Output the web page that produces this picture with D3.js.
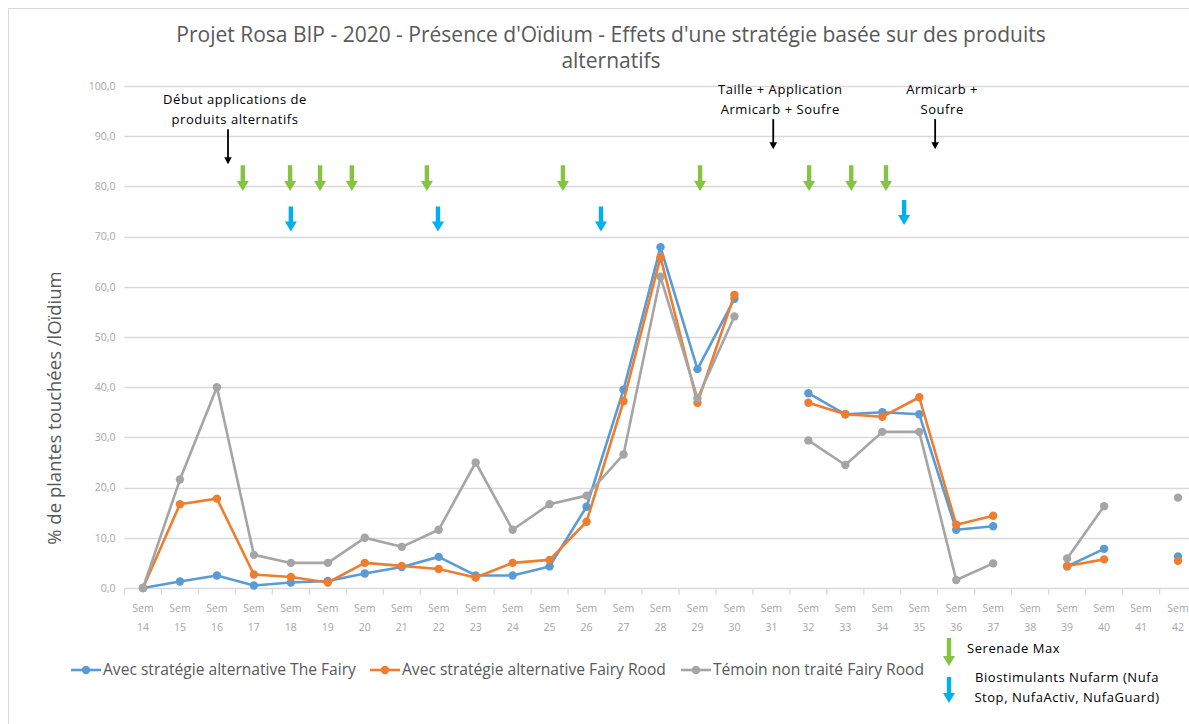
<!DOCTYPE html>
<html><head><meta charset="utf-8">
<script src="https://cdn.jsdelivr.net/npm/d3@7"></script>
<style>
body{margin:0;background:#fff;}
svg{display:block;font-family:"Open Sans","Liberation Sans",Arial,sans-serif;}
</style>
</head><body>
<svg id="chart" width="1189" height="724"></svg>
<script>
// ---------- DATA ----------
const weekNumbers = ["14","15","16","17","18","19","20","21","22","23","24","25","26","27","28","29","30","31","32","33","34","35","36","37","38","39","40","41","42"];
const categories = weekNumbers.map(w => "Sem " + w);
const seriesNames = [
  "Avec stratégie alternative The Fairy",
  "Avec stratégie alternative Fairy Rood",
  "Témoin non traité Fairy Rood"
];
const fairyValues  = [0, 1.3, 2.5, 0.5, 1.1, 1.4, 2.9, 4.2, 6.2, 2.5, 2.5, 4.3, 16.2, 39.5, 67.9, 43.6, 57.6, null, 38.8, 34.6, 35.0, 34.6, 11.6, 12.3, null, 4.3, 7.8, null, 6.3];
const roodValues   = [0, 16.7, 17.8, 2.7, 2.2, 1.1, 5.0, 4.4, 3.8, 2.1, 5.0, 5.6, 13.2, 37.2, 65.9, 36.9, 58.4, null, 36.9, 34.6, 34.1, 38.0, 12.6, 14.4, null, 4.4, 5.7, null, 5.4];
const temoinValues = [0, 21.6, 40.0, 6.6, 5.0, 5.0, 10.0, 8.2, 11.6, 25.0, 11.6, 16.7, 18.4, 26.6, 62.0, 37.8, 54.1, null, 29.4, 24.5, 31.1, 31.1, 1.6, 4.9, null, 5.9, 16.3, null, 18.0];
const yTickValues = [0, 10, 20, 30, 40, 50, 60, 70, 80, 90, 100];
const titleLines = ["Projet Rosa BIP - 2020 - Présence d'Oïdium - Effets d'une stratégie basée sur des produits", "alternatifs"];
const yAxisTitle = "% de plantes touchées /lOïdium";

// treatment annotations (week position, % level)
const serenadeWeeks = [16.7, 17.98, 18.79, 19.65, 21.68, 25.36, 29.07, 32.02, 33.16, 34.1];
const nufarmWeeks   = [18.0, 21.98, 26.39, 34.59];
const nufarmLevels  = [76, 76, 76, 77.3];
const noteWeeks  = [16.3, 31.05, 35.43];
const noteTops   = [91.4, 93.4, 93.4];
const noteLabels = [["Début applications de", "produits alternatifs"], ["Taille + Application", "Armicarb + Soufre"], ["Armicarb +", "Soufre"]];
const treatmentLegend = [["Serenade Max"], ["Biostimulants Nufarm (Nufa", "Stop, NufaActiv, NufaGuard)"]];

// ---------- STYLE ----------
const colors = ["#5b9bd5", "#ed7d31", "#a5a5a5"];
const green = "#84c441", cyan = "#00b0f0";
const svg = d3.select("#chart");
const W = 1189, H = 724;

// chart border
svg.append("rect").attr("x", 8.5).attr("y", 8.5).attr("width", W + 20).attr("height", H + 20)
  .attr("fill", "#fff").attr("stroke", "#d9d9d9");

const x = d3.scalePoint().domain(categories).range([124.5, 1196.5]).padding(0.5);
const step = x.step();
const xw = d3.scaleLinear().domain([14, 42]).range([x(categories[0]), x(categories[categories.length - 1])]);
const y = d3.scaleLinear().domain([0, 100]).range([588, 86]);

// gridlines
svg.append("g").selectAll("line").data(yTickValues.filter(v => v > 0)).join("line")
  .attr("x1", 124.5).attr("x2", 1196.5)
  .attr("y1", d => Math.round(y(d)) + 0.5).attr("y2", d => Math.round(y(d)) + 0.5)
  .attr("stroke", "#d9d9d9").attr("stroke-width", 1.3);

// y axis labels
const fmt = d => d3.format(".1f")(d).replace(".", ",");
const yAxis = d3.axisLeft(y).tickValues(yTickValues).tickFormat(fmt).tickSize(0).tickPadding(9);
const gy = svg.append("g").attr("transform", "translate(124.5,0)").call(yAxis);
gy.select(".domain").remove();
gy.selectAll("text").attr("fill", "#a6a6a6").style("font-size", "10.5px").style("font-family", "'Open Sans', sans-serif");

// x axis
const gx = svg.append("g").attr("transform", `translate(0,${Math.round(y(0)) + 0.5})`);
gx.append("line").attr("x1", 124.5).attr("x2", 1196.5).attr("stroke", "#d9d9d9").attr("stroke-width", 1.3);
gx.selectAll("line.tk").data(d3.range(categories.length + 1)).join("line").attr("class", "tk")
  .attr("x1", i => x(categories[0]) - step / 2 + i * step).attr("x2", i => x(categories[0]) - step / 2 + i * step)
  .attr("y1", 0).attr("y2", 6).attr("stroke", "#d9d9d9").attr("stroke-width", 1.3);
const xl = gx.selectAll("text").data(categories).join("text")
  .attr("text-anchor", "middle").attr("fill", "#a6a6a6").style("font-size", "10.5px");
xl.append("tspan").attr("x", d => x(d)).attr("y", 23).text(d => d.split(" ")[0]);
xl.append("tspan").attr("x", d => x(d)).attr("y", 42).text(d => d.split(" ")[1]);

// series
const allSeries = [fairyValues, roodValues, temoinValues];
const line = d3.line().defined(d => d.v != null).x(d => x(d.c)).y(d => y(d.v));
allSeries.forEach((vals, i) => {
  const pts = vals.map((v, k) => ({c: categories[k], v}));
  svg.append("path").datum(pts).attr("d", line).attr("fill", "none")
    .attr("stroke", colors[i]).attr("stroke-width", 2.6).attr("stroke-linejoin", "round");
  svg.append("g").selectAll("circle").data(pts.filter(d => d.v != null)).join("circle")
    .attr("cx", d => x(d.c)).attr("cy", d => y(d.v)).attr("r", 4.2).attr("fill", colors[i]);
});

// arrows
function fatArrow(g, cx, yTop, yBot, color) {
  const hw = 6, sw = 2.2, hl = 10;
  g.append("path").attr("fill", color)
    .attr("d", `M${cx - sw},${yTop} L${cx + sw},${yTop} L${cx + sw},${yBot - hl} L${cx + hw},${yBot - hl} L${cx},${yBot} L${cx - hw},${yBot - hl} L${cx - sw},${yBot - hl} Z`);
}
function thinArrow(g, cx, yTop, yBot) {
  g.append("line").attr("x1", cx).attr("x2", cx).attr("y1", yTop).attr("y2", yBot - 6)
    .attr("stroke", "#000").attr("stroke-width", 1.8);
  g.append("path").attr("fill", "#000").attr("d", `M${cx - 3.8},${yBot - 7} L${cx + 3.8},${yBot - 7} L${cx},${yBot} Z`);
}
const noteStyle = t => t.attr("fill", "#000").style("font-size", "13px").style("letter-spacing", "0.55px");
const ga = svg.append("g");
serenadeWeeks.forEach(w => fatArrow(ga, xw(w), y(84.2), y(79.1), green));
nufarmWeeks.forEach((w, i) => fatArrow(ga, xw(w), y(nufarmLevels[i]), y(nufarmLevels[i] - 5), cyan));
noteWeeks.forEach((w, i) => {
  const top = y(noteTops[i]);
  thinArrow(ga, xw(w), top, top + (i === 0 ? 35 : 30));
  const t = ga.append("text").attr("text-anchor", "middle").call(noteStyle);
  noteLabels[i].forEach((s, j) => t.append("tspan").attr("x", xw(w) + 7).attr("y", top - 25 + j * 20).text(s));
});

// title
const tt = svg.append("text").attr("text-anchor", "middle").attr("fill", "#595959").style("font-size", "21px");
titleLines.forEach((s, i) => tt.append("tspan").attr("x", 611).attr("y", 42 + i * 26).text(s));

// y-axis title
svg.append("text").attr("transform", "translate(61,408) rotate(-90)").attr("text-anchor", "middle")
  .attr("fill", "#595959").style("font-size", "18.5px").text(yAxisTitle);

// legend
const legX = [62, 361, 672];
seriesNames.forEach((n, i) => {
  const g = svg.append("g").attr("transform", `translate(${legX[i]},670)`);
  g.append("line").attr("x1", 9).attr("x2", 39).attr("stroke", colors[i]).attr("stroke-width", 2.6);
  g.append("circle").attr("cx", 24).attr("r", 4.2).attr("fill", colors[i]);
  g.append("text").attr("x", 41).attr("y", 5).attr("fill", "#595959").style("font-size", "15.6px").text(n);
});

// treatment legend
fatArrow(svg, 949, 638, 666, green);
fatArrow(svg, 949, 677, 703, cyan);
svg.append("text").attr("x", 967).attr("y", 653).call(noteStyle).text(treatmentLegend[0][0]);
const tl = svg.append("text").attr("text-anchor", "middle").call(noteStyle);
treatmentLegend[1].forEach((s, j) => tl.append("tspan").attr("x", 1067).attr("y", 682 + j * 20).text(s));
</script>
</body></html>
